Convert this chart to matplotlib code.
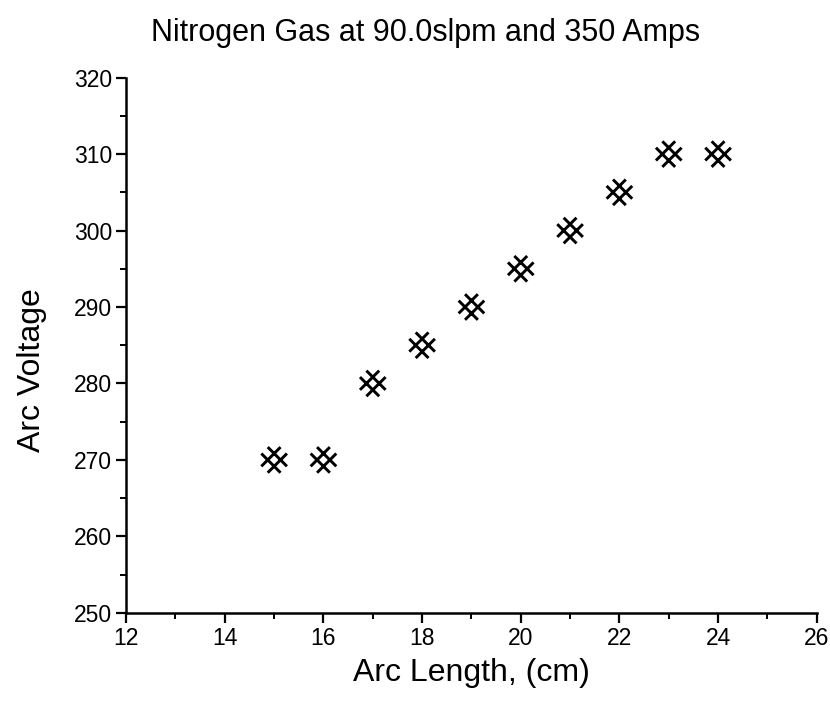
import numpy as np
import matplotlib
matplotlib.use("Agg")
import matplotlib.pyplot as plt
from matplotlib.path import Path
from matplotlib.ticker import MultipleLocator

plt.rcParams['font.family'] = ['Liberation Sans', 'DejaVu Sans']

arc_length = [15, 16, 17, 18, 19, 20, 21, 22, 23, 24]
arc_voltage = [270, 270, 280, 285, 290, 295, 300, 305, 310, 310]

# Hatched-diamond marker: two parallel strokes in each diagonal direction,
# clipped to a unit square so the inner diamond sits in the middle
a = 0.5
verts, codes = [], []
for c in (a, -a):
    # y = x + c
    x0, x1 = max(-1, -1 - c), min(1, 1 - c)
    verts += [(x0, x0 + c), (x1, x1 + c)]
    codes += [Path.MOVETO, Path.LINETO]
    # y = -x + c
    x0, x1 = max(-1, c - 1), min(1, c + 1)
    verts += [(x0, -x0 + c), (x1, -x1 + c)]
    codes += [Path.MOVETO, Path.LINETO]
hatch_marker = Path(verts, codes)

fig = plt.figure(figsize=(8.3, 7.06), dpi=100)
ax = fig.add_axes([0.152, 0.132, 0.832, 0.758])

ax.scatter(arc_length, arc_voltage, marker=hatch_marker, s=340,
           facecolors='none', edgecolors='black', linewidths=2.1)

ax.set_xlim(12, 26)
ax.set_ylim(250, 320)
ax.xaxis.set_major_locator(MultipleLocator(2))
ax.xaxis.set_minor_locator(MultipleLocator(1))
ax.yaxis.set_major_locator(MultipleLocator(10))
ax.yaxis.set_minor_locator(MultipleLocator(5))

for side in ('top', 'right'):
    ax.spines[side].set_visible(False)
for side in ('left', 'bottom'):
    ax.spines[side].set_linewidth(1.8)

ax.tick_params(which='major', direction='out', length=7, width=1.6,
               labelsize=16.5, pad=3)
ax.tick_params(which='minor', direction='out', length=4, width=1.4)

ax.set_xlabel('Arc Length, (cm)', fontsize=23, labelpad=6)
ax.set_ylabel('Arc Voltage', fontsize=23)
ax.yaxis.set_label_coords(-0.115, 0.454)
fig.suptitle('Nitrogen Gas at 90.0slpm and 350 Amps', fontsize=22,
             x=0.513, y=0.975)

fig.savefig('out.png', dpi=100)
